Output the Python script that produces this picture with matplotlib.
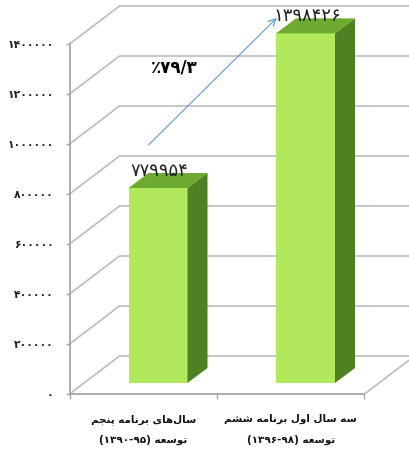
# Import required libraries
import matplotlib
matplotlib.use('Agg')
import matplotlib.pyplot as plt
from matplotlib.patches import Polygon

# -------------------------------
# 1. Chart data
# -------------------------------
categories = ['سال‌های برنامه پنجم', 'سه سال اول برنامه ششم']
category_years = ['(۱۳۹۰-۹۵)', '(۱۳۹۶-۹۸)']
category_prefix = 'توسعه'
values = [779954, 1398426]
y_ticks = [0, 200000, 400000, 600000, 800000, 1000000, 1200000, 1400000]
growth_label = '٪۷۹/۳'

# -------------------------------
# 2. Persian text helpers (matplotlib does no shaping of its own)
# -------------------------------
# letter: isolated, final, initial, medial
FORMS = {
    'ا': (0xFE8D, 0xFE8E), 'د': (0xFEA9, 0xFEAA), 'ر': (0xFEAD, 0xFEAE), 'و': (0xFEED, 0xFEEE),
    'ب': (0xFE8F, 0xFE90, 0xFE91, 0xFE92), 'پ': (0xFB56, 0xFB57, 0xFB58, 0xFB59),
    'ت': (0xFE95, 0xFE96, 0xFE97, 0xFE98), 'ج': (0xFE9D, 0xFE9E, 0xFE9F, 0xFEA0),
    'س': (0xFEB1, 0xFEB2, 0xFEB3, 0xFEB4), 'ش': (0xFEB5, 0xFEB6, 0xFEB7, 0xFEB8),
    'ع': (0xFEC9, 0xFECA, 0xFECB, 0xFECC), 'ل': (0xFEDD, 0xFEDE, 0xFEDF, 0xFEE0),
    'م': (0xFEE1, 0xFEE2, 0xFEE3, 0xFEE4), 'ن': (0xFEE5, 0xFEE6, 0xFEE7, 0xFEE8),
    'ه': (0xFEE9, 0xFEEA, 0xFEEB, 0xFEEC), 'ی': (0xFBFC, 0xFBFD, 0xFBFE, 0xFBFF),
}


def shape(text):
    # pick the joined form of each letter, then reverse for left-to-right drawing
    out = []
    for i, ch in enumerate(text):
        if ch not in FORMS:
            if ch != '\u200c':
                out.append(ch)
            continue
        prev_ch = text[i - 1] if i > 0 else ' '
        next_ch = text[i + 1] if i + 1 < len(text) else ' '
        joins_prev = prev_ch in FORMS and len(FORMS[prev_ch]) == 4
        joins_next = next_ch in FORMS and len(FORMS[ch]) == 4
        if joins_prev and joins_next:
            form = 3
        elif joins_next:
            form = 2
        elif joins_prev:
            form = 1
        else:
            form = 0
        out.append(chr(FORMS[ch][form]))
    return ''.join(reversed(out))


def fa_digits(number):
    return str(number).translate(str.maketrans('0123456789', '۰۱۲۳۴۵۶۷۸۹'))


# -------------------------------
# 3. Figure and axes
# -------------------------------
W, H = 410, 455
fig = plt.figure(figsize=(W / 100, H / 100), dpi=100, facecolor='white')
ax = fig.add_axes([69.5 / W, (H - 394) / H, 295 / W, 350 / H])
ax.set_xlim(0, 2)
ax.set_ylim(0, 1400000)
ax.set_facecolor('none')

# depth of the fake 3D box and of the bars, in data units
wall_dx = 50 / 147.5
wall_dy = 38 * 4000
bar_dx = 20 / 147.5
bar_dy = 15 * 4000
bar_base = 11 * 4000
bar_width = 59 / 147.5
grid_color = '#bcbcbc'

# -------------------------------
# 4. Walls and gridlines
# -------------------------------
for v in y_ticks:
    ax.plot([0, wall_dx, 2 + wall_dx], [v, v + wall_dy, v + wall_dy],
            color=grid_color, lw=1.2, clip_on=False, zorder=1)
ax.plot([2, 2 + wall_dx], [0, wall_dy], color=grid_color, lw=1.2, clip_on=False, zorder=1)

for spine in ['top', 'right']:
    ax.spines[spine].set_visible(False)
for spine in ['left', 'bottom']:
    ax.spines[spine].set_color('#a6a6a6')
    ax.spines[spine].set_linewidth(1.3)

# -------------------------------
# 5. Bars
# -------------------------------
for i, value in enumerate(values):
    x0 = i + 0.6 - bar_width / 2
    x1 = x0 + bar_width
    top = bar_base + value
    ax.bar(x0, value, width=bar_width, bottom=bar_base, align='edge',
           color='#b2e85c', zorder=3, clip_on=False)
    ax.add_patch(Polygon([(x1, bar_base), (x1 + bar_dx, bar_base + bar_dy),
                          (x1 + bar_dx, top + bar_dy), (x1, top)],
                         facecolor='#4f8123', edgecolor='none', clip_on=False, zorder=3))
    ax.add_patch(Polygon([(x0, top), (x0 + bar_dx, top + bar_dy),
                          (x1 + bar_dx, top + bar_dy), (x1, top)],
                         facecolor='#6ea930', edgecolor='none', clip_on=False, zorder=3))
    ax.text(x0 + bar_width / 2 + 0.01, top + bar_dy + 8000, fa_digits(value),
            ha='center', va='center', fontsize=13, color='#222222', zorder=5)

# -------------------------------
# 6. Ticks and labels
# -------------------------------
ax.set_yticks(y_ticks)
ax.set_yticklabels([fa_digits(v) for v in y_ticks], fontsize=7.8, fontweight='bold')
ax.tick_params(axis='y', length=3, width=1, color='#a6a6a6', pad=8.5, labelcolor='#222222')

ax.set_xticks([0, 1, 2])
ax.set_xticklabels([])
ax.tick_params(axis='x', length=3.5, width=1, color='#a6a6a6')
ax.set_xticks([0.5, 1.5], minor=True)
ax.set_xticklabels([shape(c) + '\n' + yr + ' ' + shape(category_prefix)
                    for c, yr in zip(categories, category_years)],
                   minor=True, fontsize=7.5, fontweight='bold', linespacing=2.25, color='#111111')
ax.tick_params(axis='x', which='minor', length=0, pad=14.5)

# -------------------------------
# 7. Growth arrow and its label
# -------------------------------
ax.annotate('', xy=(1.405, 1504000), xytext=(0.537, 997000),
            arrowprops=dict(arrowstyle='->', color='#5b9bd5', lw=0.8, shrinkA=0, shrinkB=0,
                            mutation_scale=13),
            annotation_clip=False, zorder=6)
ax.text(0.712, 1304000, growth_label, ha='center', va='center',
        fontsize=12, fontweight='bold', color='black', zorder=6)

fig.savefig('out.png', dpi=100)
